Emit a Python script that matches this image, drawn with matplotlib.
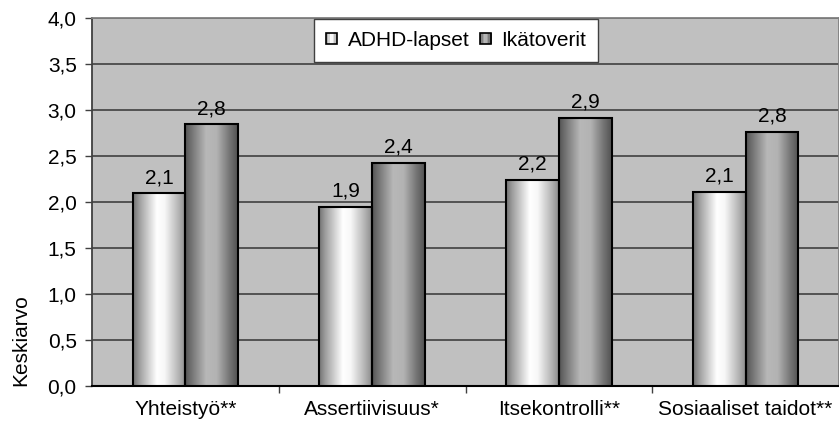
import numpy as np
import matplotlib
matplotlib.use("Agg")
import matplotlib.pyplot as plt
from matplotlib.ticker import FuncFormatter, FixedLocator
from matplotlib.patches import Rectangle
from matplotlib.legend_handler import HandlerBase

plt.rcParams['font.family'] = ['Liberation Sans', 'DejaVu Sans']

categories = ["Yhteistyö**", "Assertiivisuus*", "Itsekontrolli**", "Sosiaaliset taidot**"]
series_names = ["ADHD-lapset", "Ikätoverit"]
adhd = [2.09, 1.94, 2.24, 2.11]
peers = [2.84, 2.42, 2.91, 2.76]
yticks = [0.0, 0.5, 1.0, 1.5, 2.0, 2.5, 3.0, 3.5, 4.0]

FS = 15
W, H = 839, 430
fig = plt.figure(figsize=(W / 100, H / 100), dpi=100)
left, right, top, bottom = 92, 839, 17.7, 385.7
ax = fig.add_axes([left / W, 1 - bottom / H, (right - left) / W, (bottom - top) / H])
ax.set_facecolor('#C0C0C0')

x = np.arange(len(categories))
bw = 0.283

# gradient profiles (gray levels across bar width)
pos_w = [0.0, 0.12, 0.45, 0.6, 0.85, 1.0]
lev_w = [0.45, 0.62, 1.0, 0.97, 0.72, 0.55]
pos_g = [0.0, 0.15, 0.4, 0.6, 0.85, 1.0]
lev_g = [0.33, 0.48, 0.72, 0.70, 0.45, 0.32]
u = np.linspace(0, 1, 200)
grad_w = np.interp(u, pos_w, lev_w)
grad_g = np.interp(u, pos_g, lev_g)

def grad_image(g):
    img = np.repeat(g[None, :], 2, axis=0)
    return np.dstack([img, img, img])

bars1 = ax.bar(x - bw / 2, adhd, bw, facecolor='none', edgecolor='black', linewidth=1.5, zorder=4)
bars2 = ax.bar(x + bw / 2, peers, bw, facecolor='none', edgecolor='black', linewidth=1.5, zorder=4)

for bars, g in ((bars1, grad_w), (bars2, grad_g)):
    for b in bars:
        bx, by, bwid, bh = b.get_x(), b.get_y(), b.get_width(), b.get_height()
        ax.imshow(grad_image(g), extent=[bx, bx + bwid, by, by + bh], aspect='auto',
                  zorder=3, interpolation='bilinear')
        ax.annotate(f"{bh:.1f}".replace('.', ','), (bx + bwid / 2, by + bh),
                    xytext=(0, 4.5), textcoords='offset points',
                    ha='center', va='bottom', fontsize=FS, zorder=5)

ax.set_xlim(-0.5, len(categories) - 0.5)
ax.set_ylim(0, 4)
ax.set_yticks(yticks)
ax.yaxis.set_major_formatter(FuncFormatter(lambda v, p: f"{v:.1f}".replace('.', ',')))
ax.grid(axis='y', color='#404040', linewidth=1.2, zorder=1)
ax.set_axisbelow(True)

ax.set_xticks(x)
ax.set_xticklabels(categories, fontsize=FS)
ax.xaxis.set_minor_locator(FixedLocator(np.arange(0.5, len(categories) - 0.5, 1.0)))
ax.tick_params(axis='x', which='major', length=0, pad=10)
ax.tick_params(axis='x', which='minor', length=5, width=1, color='#404040', direction='out')
ax.tick_params(axis='y', length=5, width=1, color='#404040', direction='out', pad=6, labelsize=FS)

for s in ('top', 'right'):
    ax.spines[s].set_color('#808080')
    ax.spines[s].set_linewidth(1.3)
ax.spines['left'].set_color('#404040')
ax.spines['left'].set_linewidth(1.3)
ax.spines['bottom'].set_color('black')
ax.spines['bottom'].set_linewidth(1.5)

fig.text(21 / W, 1 - 340 / H, "Keskiarvo", rotation=90, ha='center', va='center', fontsize=FS)


class GradHandler(HandlerBase):
    def __init__(self, g):
        super().__init__()
        self.g = g

    def create_artists(self, legend, orig_handle, xdescent, ydescent, width, height, fontsize, trans):
        s = min(width, height)
        x0 = -xdescent + (width - s) / 2
        y0 = -ydescent + (height - s) / 2
        arts = []
        n = 8
        for i in range(n):
            lvl = float(np.interp((i + 0.5) / n, u, self.g))
            r = Rectangle((x0 + i * s / n, y0), s / n + 0.3, s, facecolor=(lvl, lvl, lvl),
                          edgecolor='none', transform=trans)
            arts.append(r)
        arts.append(Rectangle((x0, y0), s, s, facecolor='none', edgecolor='black',
                              linewidth=1.2, transform=trans))
        return arts

h1 = Rectangle((0, 0), 1, 1)
h2 = Rectangle((0, 0), 1, 1)
leg = ax.legend([h1, h2], series_names, loc='upper center', bbox_to_anchor=(0.4873, 0.996),
                borderaxespad=0, ncol=2, fontsize=FS, frameon=True, fancybox=False,
                edgecolor='#404040', framealpha=1, handlelength=0.55, handleheight=0.55,
                handletextpad=0.5, columnspacing=0.5, borderpad=0.57,
                handler_map={h1: GradHandler(grad_w), h2: GradHandler(grad_g)})
leg.get_frame().set_linewidth(1.0)
leg.set_zorder(10)

fig.savefig("out.png", dpi=100)
